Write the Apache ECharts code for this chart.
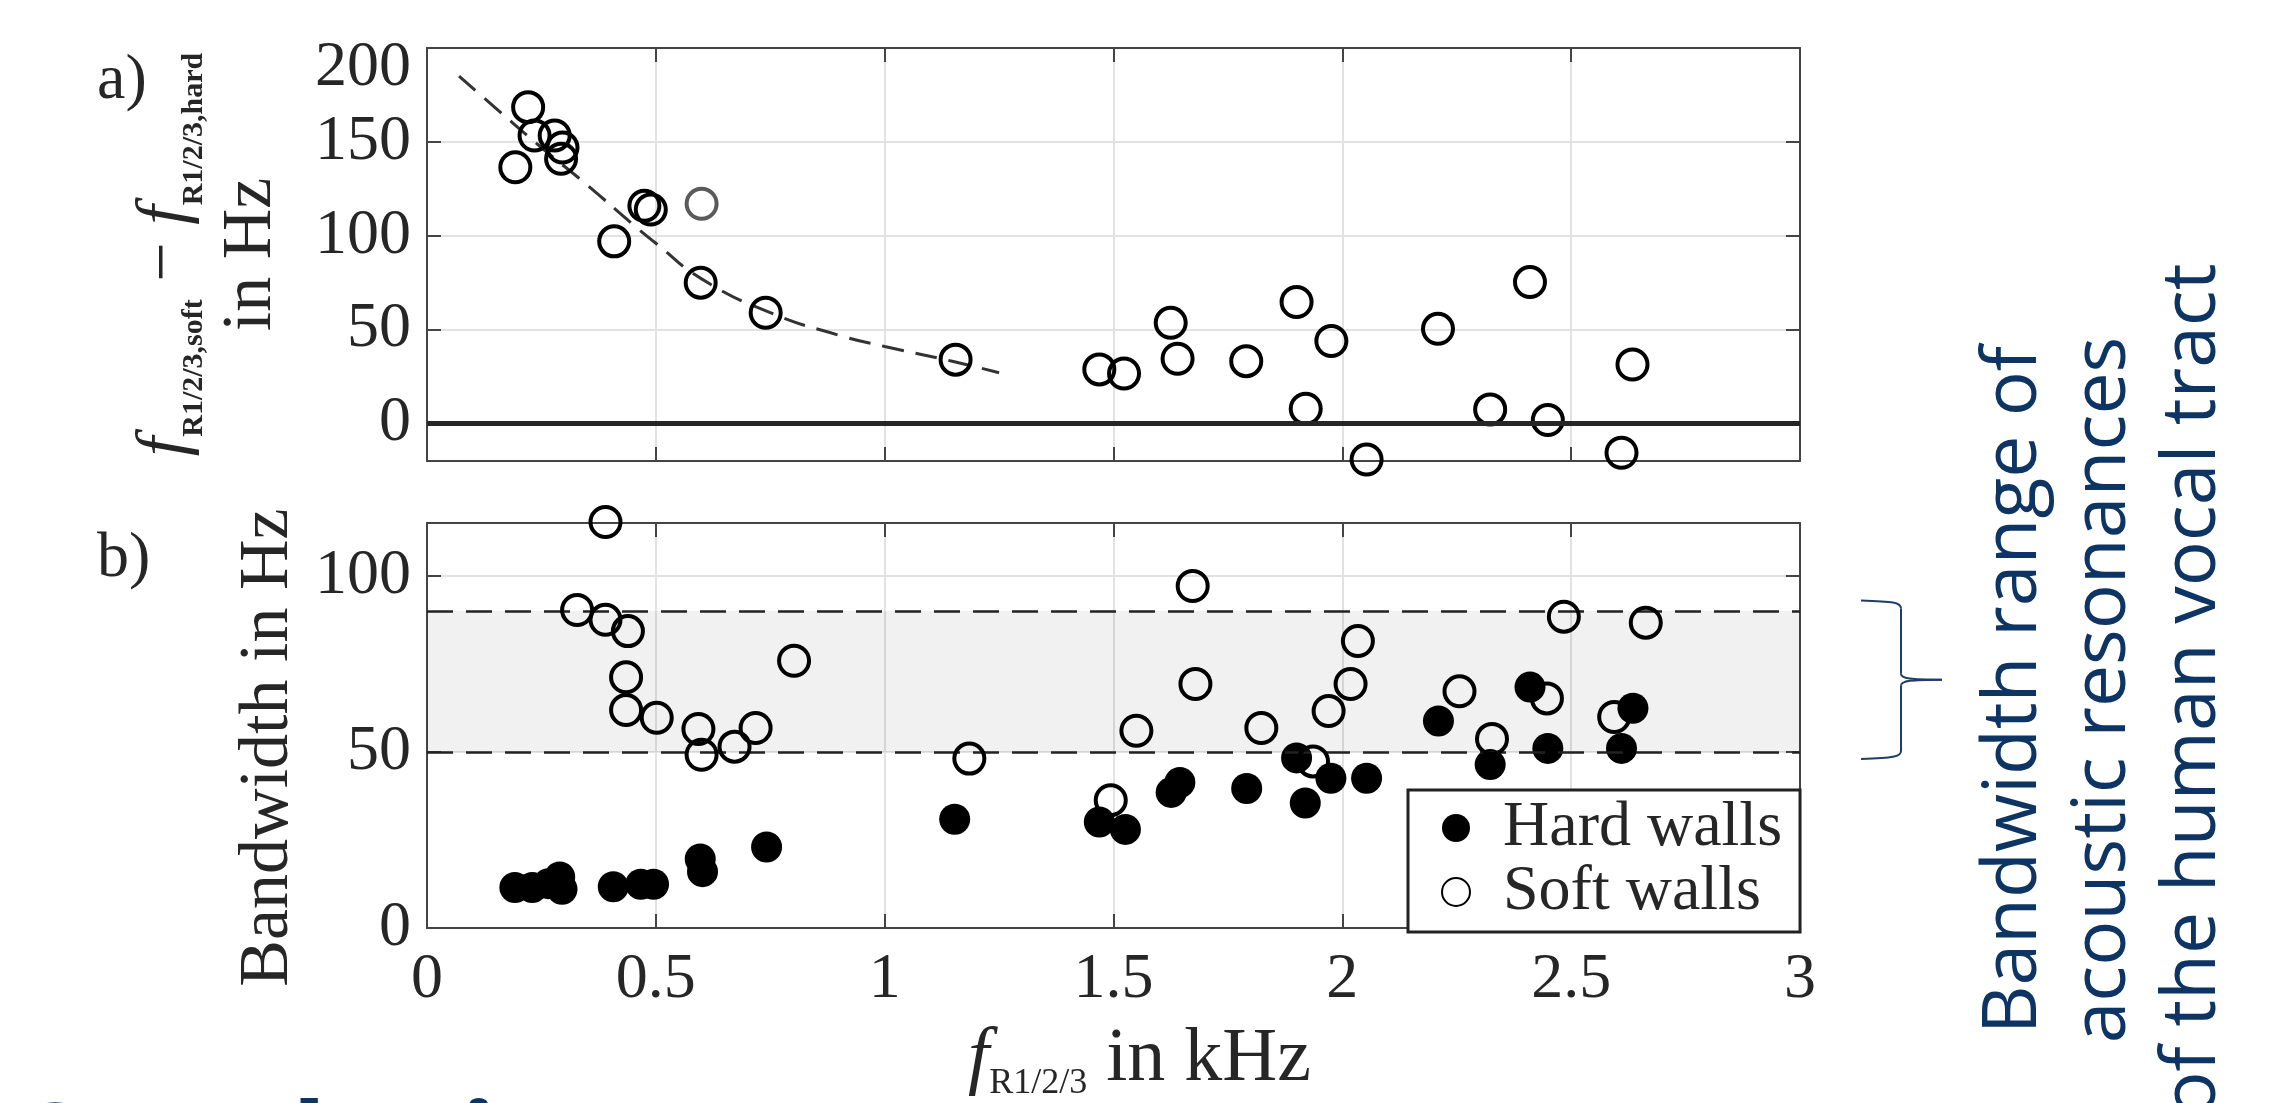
<!DOCTYPE html>
<html><head><meta charset="utf-8">
<script src="https://cdn.jsdelivr.net/npm/echarts@6/dist/echarts.min.js"></script>
<style>html,body{margin:0;padding:0;background:#fff;}#c{width:2281px;height:1103px;}</style>
</head><body><div id="c"></div>
<script>
// ---- data (kHz, Hz) ----
const diffX = [0.221,0.235,0.279,0.296,0.293,0.193,0.475,0.489,0.409,0.598,0.740,1.155,1.469,1.523,1.625,1.640,1.790,1.900,1.920,1.976,2.053,2.209,2.323,2.410,2.449,2.610,2.634];
const diffY = [168.5,153.4,153.4,147,141,136.5,116,114,97,75,59,34,28.8,26.6,53.6,34.5,33.2,64.7,7.8,43.9,-19.2,50.4,7.5,75.3,1.8,-15.6,31.4];
const diffGrayX = [0.600];
const diffGrayY = [117];
const fitX = [0.07,0.15,0.25,0.35,0.45,0.50,0.60,0.75,0.90,1.00,1.15,1.25];
const fitY = [185,168,147,127,106,96,77,59,47,41,33,27];
const hardX = [0.192,0.230,0.265,0.290,0.295,0.407,0.467,0.495,0.597,0.602,0.742,1.153,1.469,1.526,1.626,1.645,1.791,1.900,1.919,1.975,2.053,2.210,2.323,2.410,2.449,2.610,2.635];
const hardY = [11.5,11.5,12.6,14.5,11,11.7,12.4,12.4,19.6,16,23,30.9,30.1,28,38.5,41.3,39.6,48.3,35.5,42.5,42.5,58.8,46.4,68.4,51,51,62.4];
const softX = [0.390,0.328,0.390,0.439,0.435,0.435,0.502,0.593,0.600,0.672,0.718,0.802,1.185,1.494,1.550,1.673,1.679,1.823,1.936,1.970,2.018,2.034,2.256,2.327,2.447,2.484,2.594,2.663];
const softY = [115.3,90.3,87.5,84.3,71.2,61.9,59.7,56.5,49.2,51.5,56.8,75.9,48.1,36.3,56,97.1,69.3,56.8,47.3,61.6,69.3,81.5,67.2,53.7,65.2,88.4,59.9,86.7];
const bandRange = [50, 90];
const braceRange = [48, 93];
const seriesNames = ['Hard walls', 'Soft walls'];
const panelLabels = ['a)', 'b)'];
const noteLines = ['Bandwidth range of', 'acoustic resonances', 'of the human vocal tract'];
const headingText = 'Conclusion';

const zip = (xs, ys) => xs.map((x, i) => [x, ys[i]]);
const SERIF = 'Liberation Serif';
const INK = '#262626';
const NAVY = '#0d3463';
const axisLine = { show: true, onZero: false, lineStyle: { color: '#444', width: 2 } };
const tick = { show: true, inside: true, length: 14, lineStyle: { color: '#444', width: 2 } };
const grid = { show: true, lineStyle: { color: '#e2e2e2', width: 2 } };
const tickFont = { fontFamily: SERIF, fontSize: 64, color: INK };

function xAx(gi, pos, labels, extra) {
  return Object.assign({
    type: 'value', gridIndex: gi, position: pos, min: 0, max: 3, interval: 0.5,
    axisLine: axisLine, axisTick: tick,
    axisLabel: labels ? Object.assign({ margin: 20 }, tickFont) : { show: false },
    splitLine: pos === 'bottom' ? grid : { show: false }
  }, extra || {});
}
const openStyle = { color: 'rgba(0,0,0,0)', borderColor: '#000', borderWidth: 4, opacity: 1 };

const chart = echarts.init(document.getElementById('c'), null, { renderer: 'canvas' });
const option = {
  animation: false,
  backgroundColor: '#fff',
  textStyle: { fontFamily: SERIF },
  title: [
    { text: panelLabels[0], left: 92, top: 44, textStyle: { fontFamily: SERIF, fontSize: 64, fontWeight: 'normal', color: INK } },
    { text: panelLabels[1], left: 92, top: 522, textStyle: { fontFamily: SERIF, fontSize: 64, fontWeight: 'normal', color: INK } }
  ],
  legend: {
    data: seriesNames, orient: 'vertical', left: 1408, top: 790,
    padding: [6, 18, 8, 33], itemGap: 0, itemWidth: 28, itemHeight: 28,
    borderColor: '#222', borderWidth: 3, backgroundColor: '#fff',
    textStyle: { fontFamily: SERIF, fontSize: 64, color: INK, padding: [0, 0, 0, 28] },
    selectedMode: false
  },
  grid: [
    { left: 427, top: 48, width: 1373, height: 413 },
    { left: 427, top: 523, width: 1373, height: 414 }
  ],
  xAxis: [
    xAx(0, 'bottom', false),
    xAx(0, 'top', false),
    xAx(1, 'bottom', true, {
      name: '{f|f}{s|R1/2/3}{n| in kHz}', nameLocation: 'middle', nameGap: 90,
      nameTextStyle: {
        padding: [0, 0, 0, 52],
        rich: {
          f: { fontFamily: SERIF, fontStyle: 'italic', fontSize: 76, lineHeight: 84, color: INK },
          s: { fontFamily: SERIF, fontSize: 36, lineHeight: 40, verticalAlign: 'bottom', color: INK },
          n: { fontFamily: SERIF, fontSize: 76, lineHeight: 84, color: INK }
        }
      }
    }),
    xAx(1, 'top', false)
  ],
  yAxis: [
    {
      type: 'value', gridIndex: 0, position: 'left', min: -20, max: 200, minInterval: 50, maxInterval: 50,
      axisLine: axisLine, axisTick: tick, splitLine: grid,
      axisLabel: Object.assign({ margin: 16, showMinLabel: false,
        formatter: v => v === 200 ? '{t|200}' : String(v),
        rich: { t: { fontFamily: SERIF, fontSize: 64, color: INK, padding: [40, 0, 0, 0] } } }, tickFont),
      name: '{f|f}{s|R1/2/3,soft}{n| − }{f|f}{s|R1/2/3,hard}\n{n|in Hz}',
      nameLocation: 'middle', nameRotate: 90, nameGap: 132,
      nameTextStyle: {
        rich: {
          f: { fontFamily: SERIF, fontStyle: 'italic', fontSize: 70, lineHeight: 86, color: INK },
          s: { fontFamily: SERIF, fontWeight: 'bold', fontSize: 30, lineHeight: 44, verticalAlign: 'bottom', color: INK },
          n: { fontFamily: SERIF, fontSize: 70, lineHeight: 86, color: INK }
        }
      }
    },
    {
      type: 'value', gridIndex: 0, position: 'right', min: -20, max: 200, minInterval: 50, maxInterval: 50,
      axisLine: axisLine, axisTick: tick, splitLine: { show: false }, axisLabel: { show: false }
    },
    {
      type: 'value', gridIndex: 1, position: 'left', min: 0, max: 115, interval: 50,
      axisLine: axisLine, axisTick: tick, splitLine: grid,
      axisLabel: Object.assign({ margin: 16, showMaxLabel: false }, tickFont),
      name: 'Bandwidth in Hz', nameLocation: 'middle', nameRotate: 90, nameGap: 114,
      nameTextStyle: { fontFamily: SERIF, fontSize: 70, color: INK, padding: [0, 44, 0, 0] }
    },
    {
      type: 'value', gridIndex: 1, position: 'right', min: 0, max: 115, interval: 50,
      axisLine: axisLine, axisTick: tick, splitLine: { show: false }, axisLabel: { show: false }
    }
  ],
  series: [
    {
      type: 'line', name: 'fit', xAxisIndex: 0, yAxisIndex: 0, data: zip(fitX, fitY),
      smooth: true, showSymbol: false, silent: true, z: 3,
      lineStyle: { color: '#333', width: 3, type: [22, 12] },
      markLine: {
        silent: true, symbol: 'none', label: { show: false },
        lineStyle: { color: '#262626', width: 5, type: 'solid' },
        data: [{ yAxis: 0 }]
      }
    },
    {
      type: 'scatter', name: 'diff', xAxisIndex: 0, yAxisIndex: 0, data: zip(diffX, diffY),
      symbol: 'circle', symbolSize: 30, itemStyle: openStyle, clip: false, silent: true, z: 4
    },
    {
      type: 'scatter', name: 'diffGray', xAxisIndex: 0, yAxisIndex: 0, data: zip(diffGrayX, diffGrayY),
      symbol: 'circle', symbolSize: 30, itemStyle: { color: 'rgba(0,0,0,0)', borderColor: '#5a5a5a', borderWidth: 4, opacity: 1 },
      clip: false, silent: true, z: 4
    },
    {
      type: 'scatter', name: seriesNames[0], xAxisIndex: 2, yAxisIndex: 2, data: zip(hardX, hardY),
      symbol: 'circle', symbolSize: 31, itemStyle: { color: '#000', opacity: 1 }, clip: false, silent: true, z: 4,
      markArea: {
        silent: true, itemStyle: { color: 'rgba(0,0,0,0.055)' },
        data: [[{ yAxis: bandRange[0] }, { yAxis: bandRange[1] }]]
      },
      markLine: {
        silent: true, symbol: 'none', label: { show: false },
        lineStyle: { color: '#222', width: 2.5, type: [26, 13] },
        data: [{ yAxis: bandRange[0] }, { yAxis: bandRange[1] }]
      }
    },
    {
      type: 'scatter', name: seriesNames[1], xAxisIndex: 2, yAxisIndex: 2, data: zip(softX, softY),
      symbol: 'circle', symbolSize: 30, itemStyle: openStyle, clip: false, silent: true, z: 5
    }
  ]
};
chart.setOption(option);

// annotations: brace next to the band, note text, heading
const xr = chart.convertToPixel({ xAxisIndex: 2 }, 3);
const yT = chart.convertToPixel({ yAxisIndex: 2 }, braceRange[1]);
const yB = chart.convertToPixel({ yAxisIndex: 2 }, braceRange[0]);
const yM = (yT + yB) / 2;
const x0 = xr + 61, x1 = xr + 101, xt = xr + 142;
const bs = { stroke: '#1f3d6b', lineWidth: 2, fill: null };
chart.setOption({
  graphic: [
    { type: 'bezierCurve', shape: { x1: x0, y1: yT, x2: x1, y2: yT + 8, cpx1: x1 - 8, cpy1: yT + 1, cpx2: x1, cpy2: yT + 2 }, style: bs, silent: true },
    { type: 'line', shape: { x1: x1, y1: yT + 8, x2: x1, y2: yM - 6 }, style: bs, silent: true },
    { type: 'bezierCurve', shape: { x1: x1, y1: yM - 6, x2: xt, y2: yM, cpx1: x1, cpy1: yM - 1, cpx2: x1 + 10, cpy2: yM }, style: bs, silent: true },
    { type: 'bezierCurve', shape: { x1: xt, y1: yM, x2: x1, y2: yM + 6, cpx1: x1 + 10, cpy1: yM, cpx2: x1, cpy2: yM + 1 }, style: bs, silent: true },
    { type: 'line', shape: { x1: x1, y1: yM + 6, x2: x1, y2: yB - 8 }, style: bs, silent: true },
    { type: 'bezierCurve', shape: { x1: x1, y1: yB - 8, x2: x0, y2: yB, cpx1: x1, cpy1: yB - 2, cpx2: x1 - 8, cpy2: yB - 1 }, style: bs, silent: true },
    {
      type: 'text', x: 2104, y: 690, rotation: Math.PI / 2, silent: true,
      style: { text: noteLines.join('\n'), font: '75px "Open Sans"', fill: NAVY, align: 'center', verticalAlign: 'middle', lineHeight: 89.5 }
    },
    {
      type: 'text', x: 10, y: 1096, silent: true,
      style: { text: headingText, font: 'bold 116px "Open Sans"', fill: NAVY, align: 'left', verticalAlign: 'top' }
    }
  ]
});
</script>
</body></html>
